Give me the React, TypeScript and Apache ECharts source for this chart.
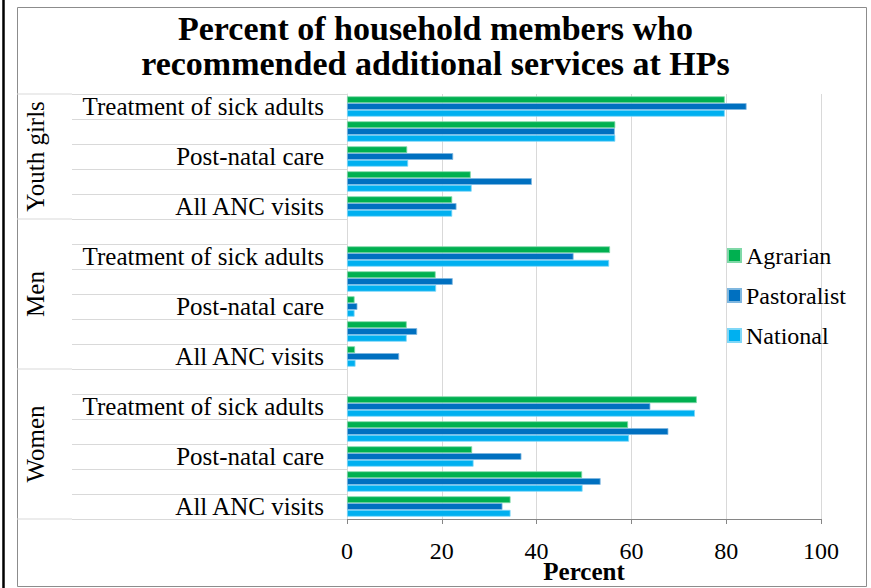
import React, { useEffect, useRef } from "react";
import * as echarts from "echarts";

// Respondent groups, top to bottom
const groups = ["Youth girls", "Men", "Women"];

// Service rows inside each group (only every other one carries a printed label)
const serviceLabels = ["Treatment of sick adults", "", "Post-natal care", "", "All ANC visits"];

// Percent recommending each service, per group, in serviceLabels order
const agrarian = {
  "Youth girls": [79.7, 56.6, 12.7, 26.1, 22.2],
  Men: [55.5, 18.7, 1.6, 12.6, 1.7],
  Women: [73.8, 59.3, 26.4, 49.6, 34.5],
};
const pastoralist = {
  "Youth girls": [84.3, 56.5, 22.4, 39.0, 23.1],
  Men: [47.8, 22.3, 2.2, 14.8, 11.0],
  Women: [64.0, 67.8, 36.8, 53.5, 32.8],
};
const national = {
  "Youth girls": [79.7, 56.6, 12.9, 26.3, 22.2],
  Men: [55.3, 18.8, 1.6, 12.6, 1.8],
  Women: [73.4, 59.5, 26.7, 49.7, 34.5],
};

const xTicks = [0, 20, 40, 60, 80, 100];

const FONT = "Liberation Serif";
const W = 871;
const H = 588;
const GRID_LEFT = 347;
const GRID_RIGHT = 821;
const GRID_TOP = 94;
const GRID_BOTTOM = 519;

// Flattened category keys: a spacer row opens every group after the first
type Row = { key: string; label: string; group: string; idx: number };
const rows: Row[] = [];
groups.forEach((g, gi) => {
  if (gi > 0) rows.push({ key: `${g}|spacer`, label: "", group: g, idx: -1 });
  serviceLabels.forEach((s, i) => rows.push({ key: `${g}|${i}`, label: s, group: g, idx: i }));
});

const seriesValues = (src: Record<string, number[]>) =>
  rows.map((r) => (r.idx < 0 ? null : src[r.group][r.idx]));

export default function App() {
  const ref = useRef<HTMLDivElement>(null);

  useEffect(() => {
    if (!ref.current) return;
    const chart = echarts.init(ref.current, undefined, { renderer: "svg" });
    const rowH = (GRID_BOTTOM - GRID_TOP) / rows.length;

    // group spans (first/last row index) for the outer label level
    const spans = groups.map((g) => {
      const first = rows.findIndex((r) => r.group === g);
      let last = first;
      rows.forEach((r, i) => {
        if (r.group === g) last = i;
      });
      return { g, first, last };
    });

    const groupLines: any[] = [];
    const boundaries = [0, ...spans.map((s) => s.last + 1)];
    boundaries.forEach((b) => {
      const y = GRID_TOP + b * rowH;
      groupLines.push({
        type: "line",
        shape: { x1: 17, y1: y, x2: GRID_LEFT - 275, y2: y },
        style: { stroke: "#d9d9d9", lineWidth: 1 },
        silent: true,
      });
    });

    const groupTexts = spans.map((s) => ({
      type: "text",
      x: 35,
      y: GRID_TOP + ((s.first + s.last + 1) / 2) * rowH,
      rotation: Math.PI / 2,
      style: {
        text: s.g,
        fontFamily: FONT,
        fontSize: 25,
        fill: "#000",
        align: "center",
        verticalAlign: "middle",
      },
    }));

    const barStyle = (color: string, border: string) => ({
      color,
      borderColor: border,
      borderWidth: 0.8,
    });

    chart.setOption({
      animation: false,
      backgroundColor: "#fff",
      textStyle: { fontFamily: FONT },
      title: {
        text: "Percent of household members who\nrecommended additional services at HPs",
        left: "center",
        top: 6,
        textStyle: {
          fontFamily: FONT,
          fontSize: 34,
          fontWeight: "bold",
          lineHeight: 35,
          color: "#000",
        },
      },
      legend: {
        orient: "vertical",
        left: 722,
        top: 238,
        itemWidth: 13,
        itemHeight: 13,
        itemGap: 15,
        icon: "rect",
        textStyle: { fontFamily: FONT, fontSize: 24, color: "#000", lineHeight: 25 },
        data: ["Agrarian", "Pastoralist", "National"],
      },
      grid: {
        left: GRID_LEFT,
        right: W - GRID_RIGHT,
        top: GRID_TOP,
        bottom: H - GRID_BOTTOM,
        containLabel: false,
        outerBoundsMode: "none",
      },
      xAxis: {
        type: "value",
        min: 0,
        max: 100,
        interval: 20,
        name: "Percent",
        nameLocation: "middle",
        nameGap: 40,
        nameMoveOverlap: false,
        nameTextStyle: { fontFamily: FONT, fontSize: 25, fontWeight: "bold", color: "#000" },
        axisLine: { show: true, lineStyle: { color: "#868686", width: 1 } },
        axisTick: { show: true, length: 5, lineStyle: { color: "#868686" } },
        axisLabel: {
          fontFamily: FONT,
          fontSize: 24,
          color: "#000",
          margin: 20,
          customValues: xTicks,
        },
        splitLine: { show: true, lineStyle: { color: "#d9d9d9", width: 1 } },
      },
      yAxis: {
        type: "category",
        inverse: true,
        data: rows.map((r) => r.key),
        axisLine: { show: true, lineStyle: { color: "#d9d9d9", width: 1 } },
        axisTick: {
          show: true,
          interval: 0,
          length: 275,
          lineStyle: { color: "#d9d9d9", width: 1 },
        },
        axisLabel: {
          interval: 0,
          margin: 23,
          fontFamily: FONT,
          fontSize: 25,
          color: "#000",
          formatter: (v: string) => rows.find((r) => r.key === v)?.label ?? "",
        },
      },
      series: [
        {
          name: "Agrarian",
          type: "bar",
          data: seriesValues(agrarian),
          barWidth: 6.8,
          barGap: "0%",
          itemStyle: barStyle("#00b050", "#7fd8a7"),
        },
        {
          name: "Pastoralist",
          type: "bar",
          data: seriesValues(pastoralist),
          barWidth: 6.8,
          barGap: "0%",
          itemStyle: barStyle("#0070c0", "#7fb7df"),
        },
        {
          name: "National",
          type: "bar",
          data: seriesValues(national),
          barWidth: 6.8,
          barGap: "0%",
          itemStyle: barStyle("#00b0f0", "#7fd7f7"),
        },
      ],
      graphic: [
        {
          type: "rect",
          shape: { x: 17.5, y: 7.5, width: 849, height: 579 },
          style: { fill: "none", stroke: "#8c8c8c", lineWidth: 1 },
          silent: true,
          z: -1,
        },
        {
          type: "line",
          shape: { x1: 3.5, y1: 0, x2: 3.5, y2: H },
          style: { stroke: "#000", lineWidth: 2.5 },
          silent: true,
        },
        ...groupLines,
        ...groupTexts,
      ],
    });

    return () => chart.dispose();
  }, []);

  return (
    <div
      ref={ref}
      style={{ position: "fixed", left: 0, top: 0, width: W, height: H, background: "#fff" }}
    />
  );
}
